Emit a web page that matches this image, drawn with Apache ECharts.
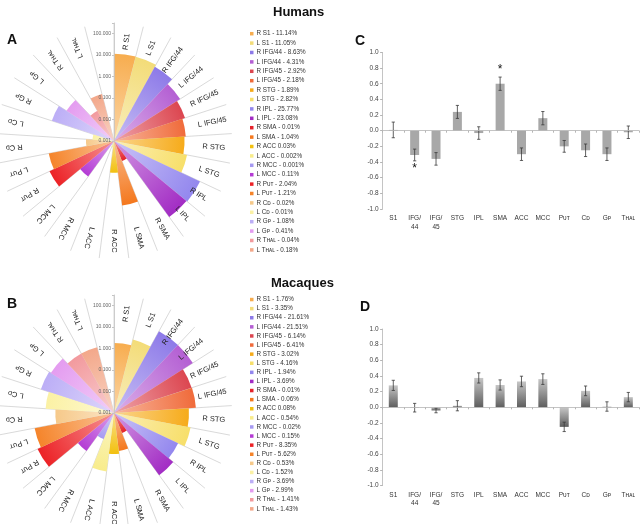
<!DOCTYPE html>
<html>
<head>
<meta charset="utf-8">
<script src="https://cdn.jsdelivr.net/npm/echarts@6/dist/echarts.min.js"></script>
<style>
  html, body { margin: 0; padding: 0; background: #fff; }
  #chart { width: 640px; height: 524px; }
</style>
</head>
<body>
<div id="chart"></div>
<script>
// regions round the rose, clockwise from the top
const regions = ['R S1', 'L S1', 'R IFG/44', 'L IFG/44', 'R IFG/45', 'L IFG/45', 'R STG', 'L STG',
  'R IPL', 'L IPL', 'R SMA', 'L SMA', 'R ACC', 'L ACC', 'R MCC', 'L MCC',
  'R Pᴜᴛ', 'L Pᴜᴛ', 'R Cᴅ', 'L Cᴅ', 'R Gᴘ', 'L Gᴘ', 'R Tʜᴀʟ', 'L Tʜᴀʟ'];
// percentages (log radius)
const humanPct = [11.14, 11.05, 8.63, 4.31, 2.92, 2.18, 1.89, 2.82, 25.77, 23.08, 0.01, 1.04,
  0.03, 0.002, 0.001, 0.11, 2.04, 1.21, 0.02, 0.01, 1.08, 0.41, 0.04, 0.18];
const macaquePct = [1.76, 3.35, 21.61, 21.51, 6.14, 6.41, 3.02, 4.16, 1.94, 3.69, 0.01, 0.06,
  0.08, 0.54, 0.02, 0.15, 8.35, 5.62, 0.53, 1.52, 3.69, 2.99, 1.41, 1.43];
const regionColors = ['#f7ad4f', '#f3dc78', '#8d7ae8', '#b45fd3', '#dc4650', '#f06b3b', '#f6ab1a', '#f7df6a',
  '#9387ee', '#a22cc4', '#e5232b', '#f4781e', '#f2c010', '#f8ec8c', '#a69af2', '#b43cd4',
  '#ec2226', '#f5842a', '#f6c98a', '#fbf1a4', '#bcaef6', '#e49cf0', '#f29a9e', '#f3a88a'];
const noDash = ['R ACC'];
// the last slot of the rose is left empty for the scale labels
const roseSlots = regions.concat(['']);

// correlation bars
const areas = ['S1', 'IFG/\n44', 'IFG/\n45', 'STG', 'IPL', 'SMA', 'ACC', 'MCC', 'Pᴜᴛ', 'Cᴅ', 'Gᴘ', 'Tʜᴀʟ'];
const humanVal = [0.01, -0.31, -0.36, 0.24, -0.03, 0.60, -0.30, 0.16, -0.20, -0.25, -0.30, -0.02];
const humanErr = [0.10, 0.075, 0.08, 0.083, 0.08, 0.085, 0.08, 0.085, 0.075, 0.08, 0.08, 0.08];
const macaqueVal = [0.28, -0.005, -0.04, 0.02, 0.375, 0.285, 0.33, 0.36, -0.25, 0.21, 0.01, 0.13];
const macaqueErr = [0.065, 0.055, 0.03, 0.065, 0.065, 0.065, 0.067, 0.068, 0.06, 0.062, 0.06, 0.06];
const starAreas = ['SMA', 'IFG/\n44'];
const starY = [0.775, -0.48];

const FONT = 'Liberation Sans, Arial, sans-serif';
const RMIN = 0.001, RMAX = 300, ROSE_R = 118;

function mix(hex, t) {
  const n = parseInt(hex.slice(1), 16);
  const c = [n >> 16, (n >> 8) & 255, n & 255].map(v => Math.round(v + (255 - v) * t));
  return 'rgb(' + c.join(',') + ')';
}

// one wedge per region, radius
function wedge(params, api) {
  const v = api.value(0), i = api.value(1);
  const cx = params.coordSys.cx, cy = params.coordSys.cy;
  const p = api.coord([v, i]);
  const a = Math.atan2(p[1] - cy, p[0] - cx);
  const half = api.size([0, 1], [v, i])[1] / 2;
  const r = Math.max(Math.hypot(p[0] - cx, p[1] - cy), 0.01);
  const col = regionColors[i];
  return {
    type: 'sector',
    shape: { cx: cx, cy: cy, r0: 0, r: r, startAngle: a - half, endAngle: a + half, clockwise: true },
    style: {
      fill: new echarts.graphic.RadialGradient(cx, cy, r, [
        { offset: 0, color: mix(col, 0.5) },
        { offset: 0.6, color: mix(col, 0.2) },
        { offset: 1, color: col }
      ], true)
    }
  };
}

function roseSeries(prefix, pct, polarIndex) {
  return regions.map((r, i) => ({
    name: prefix + i,
    type: 'custom',
    coordinateSystem: 'polar',
    polarIndex: polarIndex,
    data: [[pct[i], i]],
    renderItem: wedge,
    silent: true,
    z: 2
  }));
}

function roseLabels(params, api) {
  const i = api.value(1);
  const cx = params.coordSys.cx, cy = params.coordSys.cy;
  const p = api.coord([100, i]);
  const a = Math.atan2(p[1] - cy, p[0] - cx);
  return {
    type: 'text',
    x: cx + 100 * Math.cos(a),
    y: cy + 100 * Math.sin(a),
    rotation: -a,
    style: {
      text: regions[i], x: 0, y: 0, align: 'center', verticalAlign: 'middle',
      fontSize: 7.5, fontFamily: FONT, fill: '#222'
    }
  };
}

function legendFor(prefix, pct, top, lineH) {
  return {
    orient: 'vertical', left: 250, top: top, padding: 0, itemGap: 0,
    itemWidth: 3.5, itemHeight: 3.5, icon: 'rect', selectedMode: false,
    data: regions.map((r, i) => ({ name: prefix + i, itemStyle: { color: regionColors[i] } })),
    formatter: name => {
      const i = +name.slice(1);
      return regions[i] + (noDash.indexOf(regions[i]) >= 0 ? ' ' : ' - ') + pct[i] + '%';
    },
    textStyle: { fontSize: 6.3, fontFamily: FONT, color: '#333', lineHeight: lineH, padding: [0, 0, 0, -2] }
  };
}

function errorBars(params, api) {
  const i = api.value(0);
  const lo = api.coord([i, api.value(1)]);
  const hi = api.coord([i, api.value(2)]);
  const w = 1.6;
  const st = { stroke: '#3a3a3a', lineWidth: 0.8 };
  return {
    type: 'group',
    children: [
      { type: 'line', shape: { x1: lo[0], y1: lo[1], x2: hi[0], y2: hi[1] }, style: st },
      { type: 'line', shape: { x1: lo[0] - w, y1: lo[1], x2: lo[0] + w, y2: lo[1] }, style: st },
      { type: 'line', shape: { x1: hi[0] - w, y1: hi[1], x2: hi[0] + w, y2: hi[1] }, style: st }
    ]
  };
}

function stars(params, api) {
  const p = api.coord([api.value(0), api.value(1)]);
  return {
    type: 'text', x: p[0], y: p[1],
    style: { text: '*', x: 0, y: 0, align: 'center', verticalAlign: 'middle', fontSize: 12, fontFamily: FONT, fill: '#111' }
  };
}

function polarAxes(idx) {
  return {
    angle: {
      polarIndex: idx, type: 'category', data: roseSlots, startAngle: 90, clockwise: true,
      boundaryGap: true,
      axisLine: { show: false }, axisTick: { show: false }, axisLabel: { show: false },
      splitLine: { show: true, lineStyle: { color: '#cfcfcf', width: 0.8 } }
    },
    radius: {
      polarIndex: idx, type: 'log', logBase: 10, min: RMIN, max: RMAX, z: 10,
      axisLine: { show: true, lineStyle: { color: '#c4c4c4', width: 0.8 } },
      axisTick: { show: true, length: 2, lineStyle: { color: '#c4c4c4' } },
      splitLine: { show: false },
      axisLabel: {
        fontSize: 5, fontFamily: FONT, color: '#666', margin: 3,
        formatter: v => (v > 100.5 ? '' : v.toFixed(3))
      }
    }
  };
}

function barAxes(gridIndex) {
  return {
    x: {
      gridIndex: gridIndex, type: 'category', data: areas, z: 10,
      axisLine: { onZero: true, lineStyle: { color: '#b5b5b5', width: 0.8 } },
      axisTick: { show: true, length: 2, lineStyle: { color: '#b5b5b5' } },
      axisLabel: { interval: 0, fontSize: 6.5, fontFamily: FONT, color: '#333', margin: 5, lineHeight: 8.5 }
    },
    y: {
      gridIndex: gridIndex, type: 'value', min: -1, max: 1, interval: 0.2,
      axisLine: { show: true, lineStyle: { color: '#b5b5b5', width: 0.8 } },
      axisTick: { show: true, length: 2.5, lineStyle: { color: '#b5b5b5' } },
      splitLine: { show: false },
      axisLabel: {
        fontSize: 6.5, fontFamily: FONT, color: '#444', margin: 4,
        formatter: v => (Math.abs(v) < 1e-9 ? 0 : v).toFixed(1)
      }
    }
  };
}

const pa = polarAxes(0), pb = polarAxes(1);
const ba = barAxes(0), bb = barAxes(1);
const grayFade = new echarts.graphic.LinearGradient(0, 0, 0, 1, [
  { offset: 0, color: '#c6c6c6' }, { offset: 1, color: '#5e5e5e' }
]);

const chart = echarts.init(document.getElementById('chart'), null, { renderer: 'canvas' });
chart.setOption({
  animation: false,
  backgroundColor: '#fff',
  title: [
    { text: 'Humans', left: 268, top: 1, textStyle: { fontSize: 13, fontWeight: 'bold', fontFamily: FONT, color: '#111' } },
    { text: 'Macaques', left: 266, top: 272, textStyle: { fontSize: 13, fontWeight: 'bold', fontFamily: FONT, color: '#111' } },
    { text: 'A', left: 2, top: 28, textStyle: { fontSize: 14, fontWeight: 'bold', fontFamily: FONT, color: '#111' } },
    { text: 'B', left: 2, top: 292, textStyle: { fontSize: 14, fontWeight: 'bold', fontFamily: FONT, color: '#111' } },
    { text: 'C', left: 350, top: 29, textStyle: { fontSize: 14, fontWeight: 'bold', fontFamily: FONT, color: '#111' } },
    { text: 'D', left: 355, top: 295, textStyle: { fontSize: 14, fontWeight: 'bold', fontFamily: FONT, color: '#111' } }
  ],
  legend: [
    legendFor('A', humanPct, 29, 9.4),
    legendFor('B', macaquePct, 295, 9.1)
  ],
  polar: [
    { center: [114, 141], radius: [0, ROSE_R] },
    { center: [114, 413], radius: [0, ROSE_R] }
  ],
  angleAxis: [pa.angle, pb.angle],
  radiusAxis: [pa.radius, pb.radius],
  grid: [
    { left: 382.6, top: 52.4, width: 256.4, height: 156.6 },
    { left: 382.6, top: 329, width: 256.4, height: 156.6 }
  ],
  xAxis: [ba.x, bb.x],
  yAxis: [ba.y, bb.y],
  series: [].concat(
    roseSeries('A', humanPct, 0),
    roseSeries('B', macaquePct, 1),
    [
      {
        type: 'custom', coordinateSystem: 'polar', polarIndex: 0, silent: true, z: 5,
        data: regions.map((r, i) => [100, i]), renderItem: roseLabels
      },
      {
        type: 'custom', coordinateSystem: 'polar', polarIndex: 1, silent: true, z: 5,
        data: regions.map((r, i) => [100, i]), renderItem: roseLabels
      },
      {
        type: 'bar', xAxisIndex: 0, yAxisIndex: 0, barWidth: 9, silent: true,
        itemStyle: { color: '#a8a8a8' }, data: humanVal
      },
      {
        type: 'custom', xAxisIndex: 0, yAxisIndex: 0, silent: true, z: 4,
        encode: { x: 0, y: [1, 2] },
        data: humanVal.map((v, i) => [i, v - humanErr[i], v + humanErr[i]]),
        renderItem: errorBars
      },
      {
        type: 'custom', xAxisIndex: 0, yAxisIndex: 0, silent: true, z: 4,
        encode: { x: 0, y: 1 },
        data: starAreas.map((a, k) => [areas.indexOf(a), starY[k]]),
        renderItem: stars
      },
      {
        type: 'bar', xAxisIndex: 1, yAxisIndex: 1, barWidth: 9, silent: true,
        itemStyle: { color: grayFade }, data: macaqueVal
      },
      {
        type: 'custom', xAxisIndex: 1, yAxisIndex: 1, silent: true, z: 4,
        encode: { x: 0, y: [1, 2] },
        data: macaqueVal.map((v, i) => [i, v - macaqueErr[i], v + macaqueErr[i]]),
        renderItem: errorBars
      }
    ]
  )
});
</script>
</body>
</html>
